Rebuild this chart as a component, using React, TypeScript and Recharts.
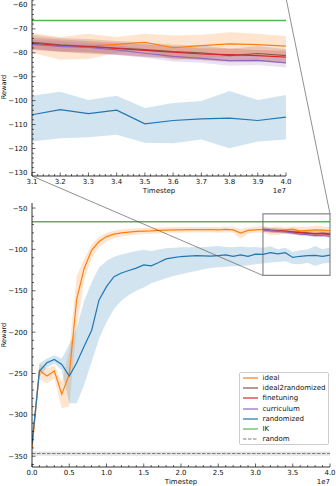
import React from "react";
import {
  ComposedChart,
  Area,
  Line,
  XAxis,
  YAxis,
  ReferenceLine,
  ReferenceArea,
  Legend,
  Label,
} from "recharts";

// timesteps in units of 1e7
const TIMESTEPS = [
  0, 0.1, 0.2, 0.3, 0.4, 0.5, 0.6, 0.7, 0.8, 0.9, 1.0, 1.1, 1.2, 1.3, 1.4, 1.5, 1.6, 1.7, 1.8, 1.9, 2.0,
  2.1, 2.2, 2.3, 2.4, 2.5, 2.6, 2.7, 2.8, 2.9, 3.0, 3.1, 3.2, 3.3, 3.4, 3.5, 3.6, 3.7, 3.8, 3.9, 4.0,
];

const IDEAL_MEAN = [
  -340, -246, -253, -247, -275, -251, -160, -123, -101, -90.5, -84.5, -81.5, -80, -79, -78.3, -77.8, -77.5,
  -77, -76.6, -76.5, -76.3, -76.2, -76, -76.2, -76, -76.3, -75.8, -76.4, -80.3, -77, -76.3, -75.9, -77.4,
  -77.2, -76.5, -75.6, -77.9, -77.0, -76.3, -76.6, -77.2,
];
const IDEAL_LO = [
  -350, -257, -262, -256, -292, -290, -195, -138, -110, -97, -90, -86.5, -84.5, -83, -82, -81.5, -81, -80.5,
  -80, -80, -79.8, -79.5, -79.5, -79.5, -79.3, -79.8, -79.3, -80, -87, -81, -80, -80.0, -82.9, -82.6, -80.0,
  -78.7, -83.1, -82.3, -81.7, -81.2, -80.9,
];
const IDEAL_HI = [
  -330, -238, -244, -240, -260, -222, -132, -112, -94, -85, -80, -77.5, -76, -75, -74.5, -74, -74, -73.5,
  -73.3, -73, -73, -72.8, -72.6, -72.8, -72.6, -72.8, -72.4, -73, -75, -73.5, -72.8, -71.7, -73.4, -72.0,
  -73.4, -72.0, -72.8, -72.5, -71.4, -72.0, -73.0,
];

const RANDOMIZED_MEAN = [
  -335, -247, -237, -233, -239, -253, -237, -217, -198, -161, -145, -133, -128.5, -125.5, -122.6, -118.7,
  -119.8, -115.8, -111.4, -110, -108.6, -108, -107.5, -107.7, -108.2, -107.5, -106.5, -108.5, -106.5, -108.5,
  -105.7, -105.9, -103.8, -105.4, -104.0, -109.7, -108.3, -107.6, -107.3, -108.3, -106.9,
];
const RANDOMIZED_LO = [
  -345, -254, -243, -238, -246, -286, -286, -264, -236, -208, -188, -172, -162, -155, -150, -146, -141, -138,
  -135, -132, -130, -128, -126, -124, -122.5, -121.5, -121, -120.5, -120, -119.5, -118, -117.1, -115.7,
  -115.3, -114.3, -117.6, -117.8, -116.2, -119.9, -117.1, -116.2,
];
const RANDOMIZED_HI = [
  -325, -238, -232, -228, -232, -215, -195, -162, -140, -122, -114, -109, -106, -104, -102, -100.5, -102, -100,
  -98.5, -98, -97.5, -97.5, -97, -97.5, -96.5, -95.8, -97, -97.5, -96.5, -97.5, -97, -98.0, -96.3, -99.7,
  -98.0, -103.1, -101.0, -100.1, -96.0, -99.7, -97.6,
];

// the transfer runs only cover the last part of training
const LATE_TIMESTEPS = [3.1, 3.2, 3.3, 3.4, 3.5, 3.6, 3.7, 3.8, 3.9, 4.0];

const I2R_MEAN = [-75.6, -76.7, -77.3, -78.0, -78.7, -79.5, -80.0, -81.2, -80.3, -81.2];
const I2R_LO = [-78.8, -79.6, -80.4, -80.9, -81.8, -82.4, -83.1, -84.0, -83.5, -84.1];
const I2R_HI = [-72.5, -73.8, -74.2, -75.1, -75.6, -76.6, -76.9, -78.3, -77.2, -78.4];

const FINETUNE_MEAN = [-76.0, -77.0, -77.5, -78.2, -79.0, -79.7, -80.5, -80.8, -81.2, -81.8];
const FINETUNE_LO = [-78.4, -79.6, -80.0, -80.6, -81.5, -82.3, -82.9, -83.4, -83.6, -84.4];
const FINETUNE_HI = [-73.6, -74.4, -75.1, -75.8, -76.4, -77.2, -78.1, -78.2, -78.8, -79.2];

const CURRICULUM_MEAN = [-76.5, -77.3, -77.8, -78.8, -80.2, -81.5, -82.3, -83.3, -83.2, -84.2];
const CURRICULUM_LO = [-78.4, -79.4, -79.7, -80.9, -82.1, -83.6, -84.2, -85.4, -85.1, -86.1];
const CURRICULUM_HI = [-74.6, -75.2, -75.9, -76.7, -78.3, -79.4, -80.4, -81.2, -81.3, -82.3];

const IK_REWARD = -66.5;
const RANDOM_REWARD = -346.7;
const RANDOM_LO = -349.3;
const RANDOM_HI = -344.2;

const SERIES_NAMES = ["ideal", "ideal2randomized", "finetuning", "curriculum", "randomized", "IK", "random"];

const MAIN_X_TICKS = [0, 0.5, 1, 1.5, 2, 2.5, 3, 3.5, 4];
const MAIN_Y_TICKS = [-350, -300, -250, -200, -150, -100, -50];
const INSET_X_TICKS = [3.1, 3.2, 3.3, 3.4, 3.5, 3.6, 3.7, 3.8, 3.9, 4.0];
const INSET_Y_TICKS = [-130, -120, -110, -100, -90, -80, -70, -60];

const MAIN_X_DOMAIN: [number, number] = [0, 4];
const MAIN_Y_DOMAIN: [number, number] = [-363, -43.9];
const INSET_X_DOMAIN: [number, number] = [3.1, 4.0];
const INSET_Y_DOMAIN: [number, number] = [-131.5, -57.1];

const COLORS = {
  ideal: "#ff7f0e",
  i2r: "#8c564b",
  finetuning: "#d62728",
  curriculum: "#9467bd",
  randomized: "#1f77b4",
  ik: "#2ca02c",
  random: "#7f7f7f",
};

const FONT = "'DejaVu Sans', sans-serif";
const W = 336;

// layout
const INSET_TOP = -12;
const INSET_H = 212;
const INSET_MARGIN = { top: 10, right: 50, bottom: 0, left: 0 };
const INSET_XAXIS_H = 24;
const MAIN_TOP = 195;
const MAIN_H = 291;
const MAIN_MARGIN = { top: 8, right: 6, bottom: 0, left: 0 };
const MAIN_XAXIS_H = 19;
const YAXIS_W = 32;

function steps(from: number, to: number, step: number) {
  const out: number[] = [];
  for (let v = from; v <= to + step / 2; v += step) out.push(Math.round(v * 1000) / 1000);
  return out;
}

const fmtX = (v: number) => v.toFixed(1);
const fmtY = (v: number) => (v < 0 ? "\u2212" + Math.abs(v) : String(v));

function FrameTick(props: any) {
  const { x, y, payload, side, majors, fmt } = props;
  const v = payload.value;
  const major = majors.some((m: number) => Math.abs(m - v) < 1e-6);
  const len = major ? 3.5 : 2;
  let line = null;
  if (side === "bottom") line = <line x1={x} x2={x} y1={y} y2={y - len} />;
  if (side === "top") line = <line x1={x} x2={x} y1={y} y2={y + len} />;
  if (side === "left") line = <line x1={x} x2={x + len} y1={y} y2={y} />;
  if (side === "right") line = <line x1={x} x2={x - len} y1={y} y2={y} />;
  let text = null;
  if (major && fmt && side === "bottom")
    text = (
      <text x={x} y={y + 8.2} textAnchor="middle" fontSize={7} fontFamily={FONT} fill="#111">
        {fmt(v)}
      </text>
    );
  if (major && fmt && side === "left")
    text = (
      <text x={x - 4.5} y={y + 2.5} textAnchor="end" fontSize={7} fontFamily={FONT} fill="#111">
        {fmt(v)}
      </text>
    );
  return (
    <g stroke="#000" strokeWidth={0.6}>
      {line}
      {text && <g stroke="none">{text}</g>}
    </g>
  );
}

function XCaption({ viewBox }: any) {
  const { x, y, width } = viewBox;
  return (
    <g fontFamily={FONT} fontSize={7} fill="#111">
      <text x={x + width / 2} y={y + 17} textAnchor="middle">
        Timestep
      </text>
      <text x={x + width} y={y + 17} textAnchor="end">
        1e7
      </text>
    </g>
  );
}

function YCaption({ viewBox }: any) {
  const { x, y, height } = viewBox;
  const cx = x + 3.8;
  const cy = y + height / 2;
  return (
    <text
      x={cx}
      y={cy}
      transform={`rotate(-90 ${cx} ${cy})`}
      textAnchor="middle"
      dominantBaseline="central"
      fontFamily={FONT}
      fontSize={6.6}
      fill="#111"
    >
      Reward
    </text>
  );
}

function frameAxes(xDomain: [number, number], yDomain: [number, number], xMajor: number[], yMajor: number[], xMinor: number[], yMinor: number[], xh: number) {
  const axisLine = { stroke: "#000", strokeWidth: 0.8 };
  const common = { interval: 0 as const, tickSize: 0, tickMargin: 0, tickLine: false, axisLine, allowDataOverflow: true };
  return [
    <XAxis key="xb" xAxisId={0} dataKey="t" type="number" domain={xDomain} ticks={xMinor} height={xh} {...common}
      tick={<FrameTick side="bottom" majors={xMajor} fmt={fmtX} />}>
      <Label content={(p: any) => <XCaption viewBox={p.viewBox} />} />
    </XAxis>,
    <XAxis key="xt" xAxisId="top" orientation="top" dataKey="t" type="number" domain={xDomain} ticks={xMinor} height={0} {...common}
      tick={<FrameTick side="top" majors={xMajor} />} />,
    <YAxis key="yl" yAxisId={0} type="number" domain={yDomain} ticks={yMinor} width={YAXIS_W} {...common}
      tick={<FrameTick side="left" majors={yMajor} fmt={fmtY} />}>
      <Label content={(p: any) => <YCaption viewBox={p.viewBox} />} />
    </YAxis>,
    <YAxis key="yr" yAxisId="right" orientation="right" type="number" domain={yDomain} ticks={yMinor} width={0} {...common}
      tick={<FrameTick side="right" majors={yMajor} />} />,
  ];
}

function seriesLayers(key: string, color: string) {
  return [
    <Area key={key + "-band"} type="linear" dataKey={key + "Band"} stroke="none" fill={color} fillOpacity={0.2}
      isAnimationActive={false} dot={false} activeDot={false} legendType="none" />,
    <Line key={key + "-line"} type="linear" dataKey={key} stroke={color} strokeWidth={1.2} dot={false}
      activeDot={false} isAnimationActive={false} />,
  ];
}

const LEGEND_COLORS = [COLORS.ideal, COLORS.i2r, COLORS.finetuning, COLORS.curriculum, COLORS.randomized, COLORS.ik, COLORS.random];

function LegendBox() {
  return (
    <div
      style={{
        width: 90,
        height: 73,
        boxSizing: "border-box",
        border: "0.8px solid #cccccc",
        borderRadius: 2,
        background: "rgba(255,255,255,0.8)",
        fontFamily: FONT,
        fontSize: 7,
        color: "#111",
      }}
    >
      {SERIES_NAMES.map((name, i) => (
        <div key={name} style={{ height: 10.3, display: "flex", alignItems: "center" }}>
          <svg width={15} height={6} style={{ marginLeft: 2.5, marginRight: 5 }}>
            <line x1={0} x2={15} y1={3} y2={3} stroke={LEGEND_COLORS[i]} strokeWidth={1.2}
              strokeDasharray={name === "random" ? "3.5 1.5" : undefined} strokeOpacity={name === "IK" ? 0.8 : 1} />
          </svg>
          <span style={{ lineHeight: "10px" }}>{name}</span>
        </div>
      ))}
    </div>
  );
}

export default function App() {
  const rows = TIMESTEPS.map((t, i) => {
    const j = LATE_TIMESTEPS.indexOf(t);
    const late = j >= 0;
    return {
      t,
      ideal: IDEAL_MEAN[i],
      idealBand: [IDEAL_LO[i], IDEAL_HI[i]],
      randomized: RANDOMIZED_MEAN[i],
      randomizedBand: [RANDOMIZED_LO[i], RANDOMIZED_HI[i]],
      i2r: late ? I2R_MEAN[j] : null,
      i2rBand: late ? [I2R_LO[j], I2R_HI[j]] : null,
      finetuning: late ? FINETUNE_MEAN[j] : null,
      finetuningBand: late ? [FINETUNE_LO[j], FINETUNE_HI[j]] : null,
      curriculum: late ? CURRICULUM_MEAN[j] : null,
      curriculumBand: late ? [CURRICULUM_LO[j], CURRICULUM_HI[j]] : null,
    };
  });
  const insetRows = rows.filter((r) => r.t >= INSET_X_DOMAIN[0] - 1e-9);

  const series = [
    ...seriesLayers("ideal", COLORS.ideal),
    ...seriesLayers("i2r", COLORS.i2r),
    ...seriesLayers("finetuning", COLORS.finetuning),
    ...seriesLayers("curriculum", COLORS.curriculum),
    ...seriesLayers("randomized", COLORS.randomized),
  ];

  // plot boxes in page coordinates, used for the zoom connectors
  const insetBox = {
    left: INSET_MARGIN.left + YAXIS_W,
    right: W - INSET_MARGIN.right,
    top: INSET_TOP + INSET_MARGIN.top,
    bottom: INSET_TOP + INSET_H - INSET_MARGIN.bottom - INSET_XAXIS_H,
  };
  const mainBox = {
    left: MAIN_MARGIN.left + YAXIS_W,
    right: W - MAIN_MARGIN.right,
    top: MAIN_TOP + MAIN_MARGIN.top,
    bottom: MAIN_TOP + MAIN_H - MAIN_MARGIN.bottom - MAIN_XAXIS_H,
  };
  const mx = (v: number) =>
    mainBox.left + ((v - MAIN_X_DOMAIN[0]) / (MAIN_X_DOMAIN[1] - MAIN_X_DOMAIN[0])) * (mainBox.right - mainBox.left);
  const my = (v: number) =>
    mainBox.bottom - ((v - MAIN_Y_DOMAIN[0]) / (MAIN_Y_DOMAIN[1] - MAIN_Y_DOMAIN[0])) * (mainBox.bottom - mainBox.top);

  return (
    <div style={{ position: "absolute", left: 0, top: 0, width: W, height: 486, overflow: "hidden", background: "#fff" }}>
      <div style={{ position: "absolute", left: 0, top: INSET_TOP }}>
        <ComposedChart width={W} height={INSET_H} data={insetRows} margin={INSET_MARGIN}>
          {frameAxes(INSET_X_DOMAIN, INSET_Y_DOMAIN, INSET_X_TICKS, INSET_Y_TICKS, steps(3.1, 4.0, 0.02), steps(-130, -58, 2), INSET_XAXIS_H)}
          {series}
          <ReferenceLine y={IK_REWARD} stroke={COLORS.ik} strokeOpacity={0.8} strokeWidth={1.4} />
        </ComposedChart>
      </div>
      <div style={{ position: "absolute", left: 0, top: MAIN_TOP }}>
        <ComposedChart width={W} height={MAIN_H} data={rows} margin={MAIN_MARGIN}>
          {frameAxes(MAIN_X_DOMAIN, MAIN_Y_DOMAIN, MAIN_X_TICKS, MAIN_Y_TICKS, steps(0, 4, 0.1), steps(-360, -50, 10), MAIN_XAXIS_H)}
          <ReferenceArea y1={RANDOM_LO} y2={RANDOM_HI} fill={COLORS.random} fillOpacity={0.2} stroke="none" />
          {series}
          <ReferenceLine y={IK_REWARD} stroke={COLORS.ik} strokeOpacity={0.8} strokeWidth={1.4} />
          <ReferenceLine y={RANDOM_REWARD} stroke={COLORS.random} strokeWidth={1.1} strokeDasharray="3.5 1.5" />
          <ReferenceArea
            x1={INSET_X_DOMAIN[0]}
            x2={INSET_X_DOMAIN[1]}
            y1={INSET_Y_DOMAIN[0]}
            y2={INSET_Y_DOMAIN[1]}
            fill="none"
            stroke="#888"
            strokeWidth={1.2}
          />
          <Legend
            layout="vertical"
            align="center"
            verticalAlign="middle"
            content={() => <LegendBox />}
            wrapperStyle={{ left: 239, top: 176.5, width: 90, height: 73 }}
          />
        </ComposedChart>
      </div>
      <svg width={W} height={486} style={{ position: "absolute", left: 0, top: 0, pointerEvents: "none" }}>
        <line x1={insetBox.left} y1={insetBox.bottom} x2={mx(INSET_X_DOMAIN[0])} y2={my(INSET_Y_DOMAIN[0])} stroke="#444" strokeWidth={0.6} />
        <line x1={insetBox.right} y1={insetBox.top} x2={mx(INSET_X_DOMAIN[1])} y2={my(INSET_Y_DOMAIN[1])} stroke="#444" strokeWidth={0.6} />
      </svg>
    </div>
  );
}
